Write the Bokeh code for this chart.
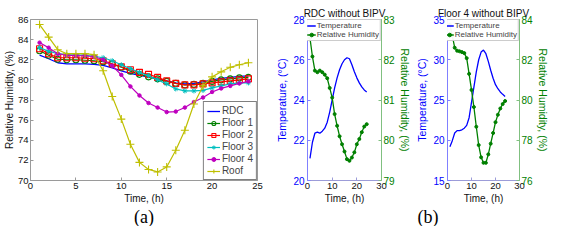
from bokeh.plotting import figure
from bokeh.models import Range1d, LinearAxis, FixedTicker, Title
from bokeh.layouts import row
from bokeh.embed import file_html
from bokeh.resources import INLINE

# ---------------- data ----------------
hours = list(range(1, 25))

rdc = [82.45, 82.1, 81.7, 81.6, 81.6, 81.6, 81.55, 81.45, 81.2, 80.9, 80.65, 80.45,
       80.3, 80.1, 79.9, 79.7, 79.6, 79.65, 79.8, 80.0, 80.15, 80.25, 80.35, 80.4]
floor1 = [82.9, 82.45, 82.05, 82.0, 82.0, 81.95, 81.9, 81.8, 81.55, 81.25, 80.85, 80.55,
          80.3, 80.1, 79.85, 79.65, 79.5, 79.55, 79.65, 79.85, 80.0, 80.1, 80.2, 80.25]
floor2 = [83.1, 82.6, 82.2, 82.2, 82.2, 82.15, 82.1, 81.9, 81.6, 81.3, 81.0, 80.75,
          80.55, 80.25, 79.9, 79.65, 79.5, 79.5, 79.6, 79.7, 79.8, 79.9, 80.0, 80.1]
floor3 = [83.2, 82.85, 82.6, 82.5, 82.45, 82.45, 82.35, 82.2, 81.9, 81.5, 81.1, 80.75,
          80.4, 80.0, 79.6, 79.1, 78.9, 78.9, 78.95, 79.2, 79.4, 79.6, 79.7, 79.7]
floor4 = [83.7, 83.2, 82.6, 82.45, 82.4, 82.4, 82.3, 82.0, 81.4, 80.5, 79.35, 78.45,
          77.7, 77.25, 76.8, 76.85, 77.25, 77.8, 78.25, 78.8, 79.15, 79.4, 79.65, 79.85]
roof = [85.5, 84.25, 83.0, 82.6, 82.6, 82.6, 82.5, 80.9, 78.35, 76.1, 73.6, 71.8,
        71.1, 70.85, 71.35, 73.0, 75.0, 77.6, 79.4, 80.3, 80.8, 81.25, 81.5, 81.7]

rdc_temp = [21.1, 21.9, 22.35, 22.4, 22.35, 22.45, 22.6, 22.9, 23.4, 24.0, 24.6, 25.1,
            25.5, 25.8, 26.0, 26.1, 26.05, 25.75, 25.4, 25.1, 24.85, 24.65, 24.5, 24.4]
rdc_rh = [82.54, 82.08, 81.73, 81.69, 81.73, 81.69, 81.63, 81.54, 81.3, 81.06, 80.65, 80.36,
          80.1, 79.9, 79.72, 79.53, 79.49, 79.57, 79.7, 79.9, 80.03, 80.2, 80.34, 80.4]

f4_temp = [19.2, 19.95, 20.9, 21.2, 21.2, 21.3, 21.5, 21.85, 22.8, 24.7, 26.6, 28.5,
           30.0, 30.95, 31.2, 30.75, 29.8, 28.7, 27.7, 26.9, 26.4, 26.0, 25.7, 25.45]
f4_rh = [83.74, 83.2, 82.6, 82.45, 82.42, 82.38, 82.33, 82.08, 81.3, 80.5, 79.65, 78.67,
         77.76, 77.15, 76.88, 76.88, 77.3, 77.83, 78.36, 78.9, 79.27, 79.58, 79.8, 79.95]

a_xticks = [0, 5, 10, 15, 20, 25]
a_yticks = [70, 72, 74, 76, 78, 80, 82, 84, 86]
b_xticks = [0, 10, 20, 30]
b1_tticks = [20, 22, 24, 26, 28]
b1_rhticks = [79, 80, 81, 82, 83]
b2_tticks = [15, 20, 25, 30, 35]
b2_rhticks = [76, 78, 80, 82, 84]

FONT = "Liberation Sans"
SERIF = "Liberation Serif"
BLUE = "#0000ff"
GREEN = "#008000"
H = 226


def style_axis(ax, line_color="#9a9a9a", label_color="#111111", size="9.5px", lsize="10px",
               lstand=1, tstand=2):
    ax.axis_line_color = line_color
    ax.major_tick_line_color = line_color
    ax.minor_tick_line_color = None
    ax.major_tick_in = 3
    ax.major_tick_out = 0
    ax.major_label_text_font = FONT
    ax.major_label_text_font_size = size
    ax.major_label_text_color = label_color
    ax.major_label_standoff = tstand
    ax.axis_label_text_font = FONT
    ax.axis_label_text_font_size = lsize
    ax.axis_label_text_font_style = "normal"
    ax.axis_label_text_color = label_color
    ax.axis_label_standoff = lstand


# ---------------- panel (a) ----------------
p1 = figure(width=273, height=H, x_range=Range1d(0, 25), y_range=Range1d(70, 86),
            output_backend="svg", toolbar_location=None,
            min_border_left=0, min_border_right=16, min_border_top=19, min_border_bottom=0)
p1.xgrid.visible = False
p1.ygrid.visible = False
p1.outline_line_color = "#9a9a9a"
p1.xaxis.ticker = FixedTicker(ticks=a_xticks)
p1.yaxis.ticker = FixedTicker(ticks=a_yticks)
p1.xaxis.axis_label = "Time, (h)"
p1.yaxis.axis_label = "Relative Humidity, (%)"
style_axis(p1.xaxis[0], lstand=1, tstand=2)
style_axis(p1.yaxis[0], lstand=0, tstand=2)

p1.line(hours, rdc, line_color=BLUE, line_width=1.3, legend_label="RDC")
p1.line(hours, floor1, line_color=GREEN, line_width=1.2, legend_label="Floor 1")
p1.scatter(hours, floor1, marker="circle", size=6, fill_color=None, line_color=GREEN,
           line_width=1.1, legend_label="Floor 1")
p1.line(hours, floor2, line_color="#ff0000", line_width=1.2, legend_label="Floor 2")
p1.scatter(hours, floor2, marker="square", size=6, fill_color=None, line_color="#ff0000",
           line_width=1.1, legend_label="Floor 2")
p1.line(hours, floor3, line_color="#00bfbf", line_width=1.2, legend_label="Floor 3")
p1.scatter(hours, floor3, marker="asterisk", size=5, line_color="#00bfbf",
           line_width=1.0, legend_label="Floor 3")
p1.line(hours, floor4, line_color="#bf00bf", line_width=1.2, legend_label="Floor 4")
p1.scatter(hours, floor4, marker="circle", size=3.5, fill_color="#bf00bf", line_color="#bf00bf",
           legend_label="Floor 4")
p1.line(hours, roof, line_color="#bfbf00", line_width=1.2, legend_label="Roof")
p1.scatter(hours, roof, marker="cross", size=8, line_color="#bfbf00", line_width=1.1,
           legend_label="Roof")

lg = p1.legend[0]
lg.location = "bottom_right"
lg.margin = 0
lg.padding = 3
lg.spacing = 1
lg.label_text_font = FONT
lg.label_text_font_size = "10px"
lg.label_height = 10
lg.glyph_height = 10
lg.glyph_width = 13
lg.label_standoff = 2
lg.border_line_color = "#000000"
lg.border_line_width = 0.8

p1.add_layout(Title(text="(a)", align="center", offset=-14, text_font=SERIF,
                    text_font_size="18px", text_font_style="normal", standoff=-4,
                    text_color="#000000"), "below")


# ---------------- panel (b) ----------------
def make_b(title, width, trange, rhrange, tticks, rhticks, temp, rh):
    p = figure(width=width, height=H, x_range=Range1d(0, 30), y_range=Range1d(*trange),
               output_backend="svg", toolbar_location=None, title=title,
               min_border_left=0, min_border_right=0,
               min_border_top=17, min_border_bottom=46)
    p.title.text_font = FONT
    p.title.text_font_size = "10px"
    p.title.text_font_style = "normal"
    p.title.align = "center"
    p.title.standoff = 2
    p.title.text_color = "#111111"
    p.xgrid.visible = False
    p.ygrid.visible = False
    p.outline_line_color = "#a8a8a8"
    p.extra_y_ranges = {"rh": Range1d(*rhrange)}
    rax = LinearAxis(y_range_name="rh", axis_label="Relative Humidity, (%)")
    p.add_layout(rax, "right")
    p.xaxis.ticker = FixedTicker(ticks=b_xticks)
    p.yaxis[0].ticker = FixedTicker(ticks=tticks)
    rax.ticker = FixedTicker(ticks=rhticks)
    p.xaxis.axis_label = "Time, (h)"
    p.yaxis[0].axis_label = "Temperature, (\u00b0C)"
    style_axis(p.xaxis[0], line_color="#9c9cd8", label_color="#111111")
    style_axis(p.yaxis[0], line_color="#8080ff", label_color=BLUE, size="10px", lsize="10.5px",
               lstand=2, tstand=3)
    style_axis(rax, line_color="#80c080", label_color=GREEN, size="10px", lsize="10.5px",
               lstand=1, tstand=2)

    p.line(hours, temp, line_color=BLUE, line_width=1.3, legend_label="Temperature")
    p.line(hours, rh, line_color=GREEN, line_width=1.3, y_range_name="rh",
           legend_label="Relative Humidity")
    p.scatter(hours, rh, marker="circle", size=3, fill_color=GREEN, line_color=GREEN,
              y_range_name="rh", legend_label="Relative Humidity")
    leg = p.legend[0]
    leg.location = "top_right"
    leg.margin = 0
    leg.padding = 1
    leg.spacing = 0
    leg.label_text_font = FONT
    leg.label_text_font_size = "8px"
    leg.label_height = 9
    leg.glyph_height = 9
    leg.glyph_width = 9
    leg.label_standoff = 1
    leg.border_line_color = "#9a9a9a"
    leg.border_line_width = 0.8
    return p


p2 = make_b("RDC without BIPV", 140, (20, 28), (79, 83), b1_tticks, b1_rhticks,
            rdc_temp, rdc_rh)
p3 = make_b("Floor 4 without BIPV", 138, (15, 35), (76, 84), b2_tticks, b2_rhticks,
            f4_temp, f4_rh)
p3.add_layout(Title(text="(b)", align="left", offset=-30, text_font=SERIF,
                    text_font_size="18px", text_font_style="normal", standoff=-4,
                    text_color="#000000"), "below")

layout = row(p1, p2, p3)
open("out.html", "w").write(file_html(layout, INLINE))
